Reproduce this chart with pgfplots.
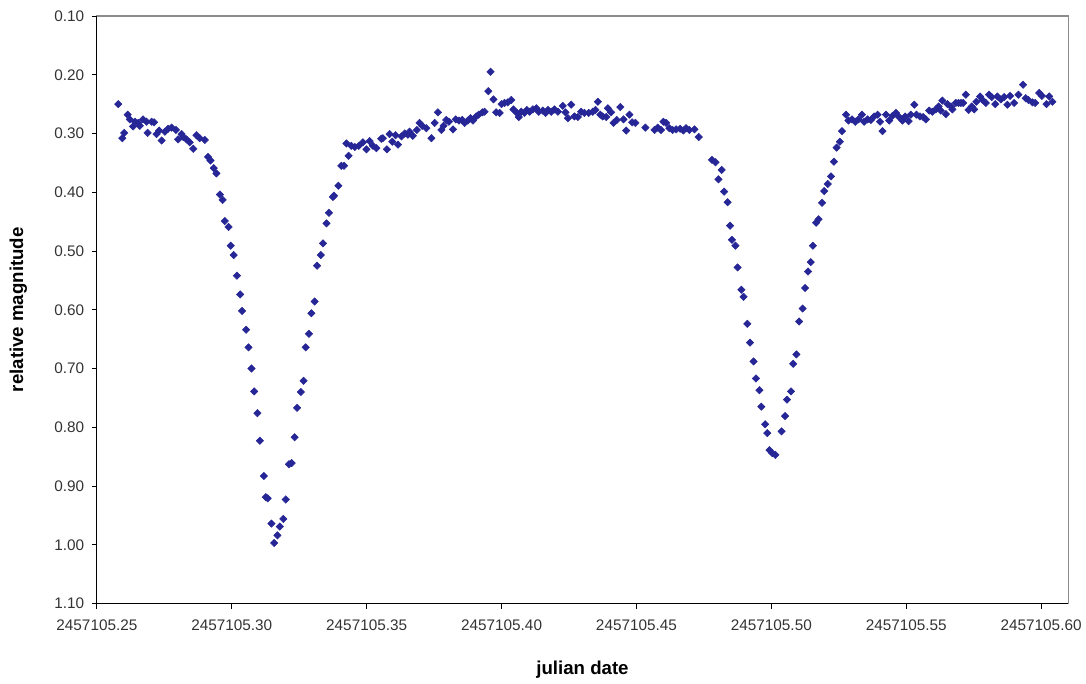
\documentclass[border=0pt]{standalone}
\usepackage{pgfplots}
\pgfplotsset{compat=1.18}
\usepackage{fontspec}
\setmainfont{Liberation Sans}
\definecolor{markblue}{RGB}{38,38,150}
\definecolor{framegray}{RGB}{140,140,140}
\begin{document}
\begin{tikzpicture}
\begin{axis}[
  scale only axis,
  width=729pt, height=441pt,
  xmin=0.25, xmax=0.61,
  ymin=0.1, ymax=1.1,
  y dir=reverse,
  axis line style={draw=framegray, line width=0.8pt},
  tick align=outside,
  xtick pos=bottom, ytick pos=left,
  major tick length=4pt,
  tick style={black, line width=0.7pt},
  xtick={0.25,0.30,0.35,0.40,0.45,0.50,0.55,0.60},
  xticklabels={2457105.25,2457105.30,2457105.35,2457105.40,2457105.45,2457105.50,2457105.55,2457105.60},
  ytick={0.1,0.2,0.3,0.4,0.5,0.6,0.7,0.8,0.9,1.0,1.1},
  yticklabel style={/pgf/number format/fixed, /pgf/number format/fixed zerofill, /pgf/number format/precision=2, /pgf/number format/assume math mode=true, xshift=-2pt},
  ticklabel style={font=\fontsize{11.5pt}{13pt}\selectfont, text=black!80},
  xticklabel style={yshift=-5pt},
  xlabel={julian date},
  ylabel={relative magnitude},
  every axis x label/.style={at={(axis description cs:0.5,-0.112)}, anchor=center, font=\fontsize{14pt}{16pt}\selectfont\bfseries},
  every axis y label/.style={at={(axis description cs:-0.081,0.5)}, rotate=90, anchor=center, font=\fontsize{14pt}{16pt}\selectfont\bfseries},
  clip=false,
]
\addplot[only marks, mark=square*, mark size=1.95pt, mark options={rotate=45, fill=markblue, draw=markblue}] table {
x y
0.2579 0.250
0.2594 0.308
0.2601 0.299
0.2614 0.268
0.2622 0.276
0.2634 0.288
0.2641 0.280
0.2653 0.282
0.2659 0.287
0.2671 0.276
0.2684 0.280
0.2688 0.299
0.2703 0.280
0.2712 0.281
0.2721 0.301
0.2731 0.295
0.2740 0.312
0.2752 0.297
0.2764 0.292
0.2777 0.290
0.2793 0.294
0.2801 0.310
0.2814 0.301
0.2820 0.306
0.2832 0.310
0.2844 0.315
0.2857 0.326
0.2869 0.303
0.2881 0.308
0.2900 0.311
0.2912 0.340
0.2921 0.346
0.2933 0.359
0.2943 0.368
0.2956 0.404
0.2966 0.413
0.2974 0.449
0.2988 0.459
0.2996 0.491
0.3007 0.507
0.3019 0.542
0.3031 0.574
0.3038 0.602
0.3053 0.634
0.3062 0.664
0.3073 0.700
0.3083 0.739
0.3095 0.776
0.3104 0.823
0.3119 0.883
0.3126 0.919
0.3133 0.921
0.3147 0.964
0.3157 0.997
0.3169 0.984
0.3178 0.969
0.3191 0.956
0.3200 0.923
0.3212 0.863
0.3222 0.861
0.3233 0.817
0.3242 0.767
0.3256 0.740
0.3266 0.721
0.3274 0.664
0.3286 0.641
0.3295 0.606
0.3307 0.586
0.3316 0.525
0.3330 0.507
0.3338 0.487
0.3351 0.453
0.3360 0.435
0.3375 0.408
0.3379 0.406
0.3395 0.389
0.3406 0.355
0.3416 0.355
0.3433 0.338
0.3425 0.317
0.3443 0.321
0.3456 0.323
0.3471 0.321
0.3486 0.315
0.3499 0.327
0.3511 0.313
0.3523 0.321
0.3536 0.325
0.3554 0.309
0.3560 0.308
0.3575 0.327
0.3585 0.301
0.3595 0.314
0.3607 0.303
0.3616 0.319
0.3629 0.305
0.3641 0.300
0.3653 0.302
0.3659 0.297
0.3671 0.304
0.3686 0.294
0.3696 0.282
0.3706 0.287
0.3721 0.291
0.3740 0.308
0.3752 0.282
0.3764 0.264
0.3777 0.294
0.3785 0.287
0.3795 0.277
0.3805 0.280
0.3820 0.293
0.3830 0.276
0.3842 0.278
0.3854 0.277
0.3863 0.282
0.3875 0.278
0.3885 0.274
0.3894 0.278
0.3906 0.271
0.3915 0.268
0.3929 0.264
0.3937 0.263
0.3951 0.228
0.3959 0.195
0.3970 0.242
0.3980 0.264
0.3993 0.265
0.4000 0.250
0.4011 0.248
0.4023 0.247
0.4036 0.243
0.4044 0.259
0.4057 0.265
0.4064 0.272
0.4073 0.263
0.4085 0.265
0.4094 0.260
0.4104 0.263
0.4116 0.259
0.4129 0.257
0.4138 0.263
0.4153 0.261
0.4163 0.265
0.4172 0.260
0.4184 0.263
0.4196 0.259
0.4209 0.263
0.4227 0.253
0.4237 0.264
0.4246 0.274
0.4258 0.251
0.4270 0.271
0.4283 0.272
0.4295 0.263
0.4307 0.265
0.4323 0.265
0.4338 0.263
0.4348 0.260
0.4357 0.246
0.4366 0.268
0.4375 0.271
0.4388 0.272
0.4394 0.257
0.4406 0.264
0.4415 0.282
0.4427 0.277
0.4440 0.255
0.4452 0.276
0.4462 0.295
0.4474 0.268
0.4484 0.281
0.4496 0.282
0.4533 0.290
0.4567 0.294
0.4579 0.290
0.4591 0.294
0.4600 0.280
0.4610 0.282
0.4622 0.291
0.4634 0.294
0.4647 0.293
0.4662 0.292
0.4674 0.295
0.4684 0.291
0.4696 0.294
0.4715 0.293
0.4731 0.306
0.4780 0.345
0.4793 0.349
0.4816 0.362
0.4804 0.378
0.4825 0.399
0.4838 0.417
0.4847 0.457
0.4854 0.481
0.4867 0.491
0.4875 0.528
0.4889 0.566
0.4897 0.578
0.4911 0.624
0.4921 0.656
0.4934 0.688
0.4943 0.717
0.4956 0.737
0.4963 0.765
0.4977 0.795
0.4985 0.810
0.4993 0.839
0.5003 0.844
0.5015 0.847
0.5038 0.807
0.5051 0.781
0.5058 0.753
0.5073 0.739
0.5081 0.692
0.5093 0.676
0.5103 0.620
0.5116 0.598
0.5125 0.563
0.5136 0.535
0.5146 0.519
0.5154 0.491
0.5166 0.452
0.5175 0.446
0.5188 0.418
0.5196 0.398
0.5209 0.386
0.5221 0.373
0.5232 0.348
0.5242 0.324
0.5254 0.314
0.5262 0.296
0.5277 0.268
0.5286 0.278
0.5299 0.276
0.5311 0.280
0.5323 0.276
0.5336 0.268
0.5344 0.280
0.5357 0.276
0.5369 0.277
0.5381 0.271
0.5394 0.268
0.5403 0.280
0.5412 0.296
0.5425 0.268
0.5437 0.278
0.5449 0.270
0.5462 0.265
0.5474 0.272
0.5486 0.278
0.5496 0.271
0.5509 0.279
0.5517 0.268
0.5530 0.251
0.5538 0.268
0.5551 0.271
0.5563 0.272
0.5573 0.276
0.5585 0.261
0.5597 0.263
0.5610 0.259
0.5620 0.254
0.5628 0.261
0.5634 0.244
0.5647 0.267
0.5653 0.250
0.5666 0.254
0.5671 0.259
0.5684 0.248
0.5694 0.248
0.5703 0.248
0.5711 0.248
0.5721 0.234
0.5731 0.260
0.5743 0.254
0.5752 0.259
0.5760 0.246
0.5774 0.237
0.5783 0.243
0.5795 0.248
0.5807 0.234
0.5817 0.238
0.5830 0.250
0.5838 0.237
0.5851 0.242
0.5863 0.238
0.5875 0.251
0.5885 0.236
0.5900 0.248
0.5916 0.234
0.5933 0.217
0.5943 0.240
0.5953 0.243
0.5968 0.247
0.5978 0.248
0.5993 0.231
0.6003 0.236
0.6020 0.250
0.6030 0.237
0.6042 0.246
};
\end{axis}
\draw[black, line width=0.8pt] (current axis.north west) -- (current axis.south west) -- (current axis.south east);
\path[use as bounding box] ([xshift=-72.75pt, yshift=-60pt]current axis.south west) rectangle ([xshift=12.75pt, yshift=12pt]current axis.north east);
\end{tikzpicture}
\end{document}
